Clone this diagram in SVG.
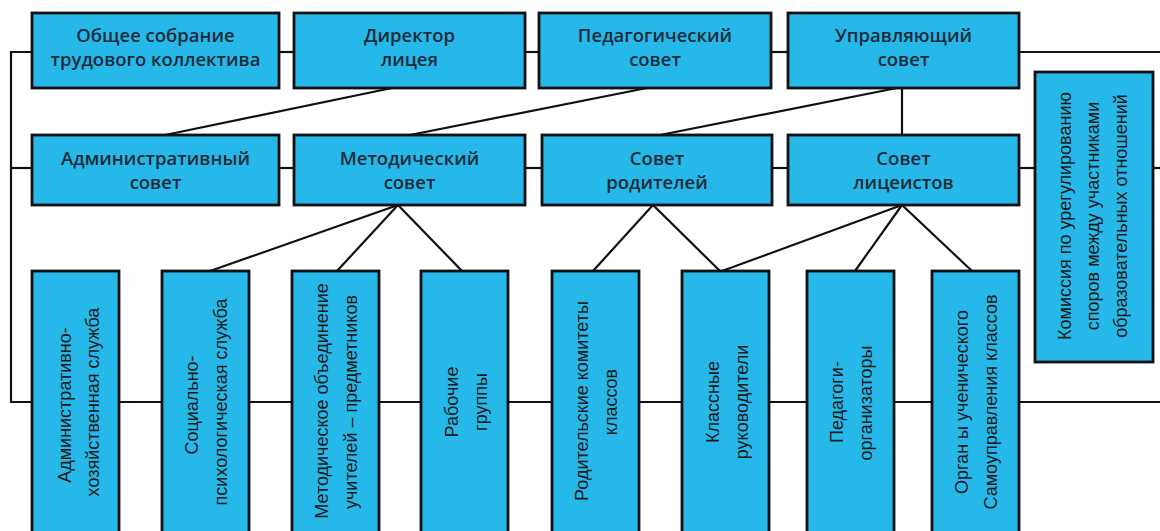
<svg xmlns="http://www.w3.org/2000/svg" width="1160" height="531" viewBox="0 0 1160 531">
<style>
.box{fill:#27B8EA;stroke:#111;stroke-width:2.8}
.ln{stroke:#111;stroke-width:2.2;fill:none}
.t{font-family:"Open Sans","Liberation Sans",sans-serif;font-weight:600;font-size:18.5px;fill:#1c2b38;text-anchor:middle;dominant-baseline:central}
.v{font-family:"Liberation Sans",Arial,sans-serif;font-size:18px;fill:#1a1a1a;text-anchor:middle;dominant-baseline:central}
</style>
<rect width="1160" height="531" fill="#fff"/>
<g id="connectors" class="ln">
<polyline points="32,52 11,52 11,402 32,402"/>
<line x1="11" y1="168" x2="32" y2="168"/>
<line x1="279" y1="52" x2="294" y2="52"/>
<line x1="525" y1="52" x2="539" y2="52"/>
<line x1="771" y1="52" x2="788" y2="52"/>
<line x1="1019" y1="52" x2="1160" y2="52"/>
<line x1="279" y1="168" x2="294" y2="168"/>
<line x1="525" y1="168" x2="542" y2="168"/>
<line x1="772" y1="168" x2="788" y2="168"/>
<line x1="1019" y1="168" x2="1035" y2="168"/>
<line x1="1153" y1="168" x2="1160" y2="168"/>
<line x1="119" y1="402" x2="162" y2="402"/>
<line x1="249" y1="402" x2="292" y2="402"/>
<line x1="379" y1="402" x2="421" y2="402"/>
<line x1="508" y1="402" x2="552" y2="402"/>
<line x1="639" y1="402" x2="682" y2="402"/>
<line x1="769" y1="402" x2="807" y2="402"/>
<line x1="894" y1="402" x2="932" y2="402"/>
<line x1="1019" y1="402" x2="1160" y2="402"/>
<line x1="392" y1="88" x2="165" y2="135"/>
<line x1="647" y1="88" x2="410" y2="135"/>
<line x1="897" y1="88" x2="660" y2="135"/>
<line x1="902" y1="88" x2="902" y2="135"/>
<line x1="398" y1="205" x2="210" y2="271"/>
<line x1="398" y1="205" x2="337" y2="271"/>
<line x1="398" y1="205" x2="462" y2="271"/>
<line x1="653" y1="205" x2="593" y2="271"/>
<line x1="653" y1="205" x2="720" y2="271"/>
<line x1="902" y1="205" x2="722" y2="271"/>
<line x1="902" y1="205" x2="855" y2="271"/>
<line x1="902" y1="205" x2="972" y2="271"/>
</g>
<g id="n-obshchee"><rect class="box" x="32" y="13" width="247" height="75"/><text class="t" x="155.5" y="34">Общее собрание</text><text class="t" x="155.5" y="58">трудового коллектива</text></g>
<g id="n-direktor"><rect class="box" x="294" y="13" width="231" height="75"/><text class="t" x="409.5" y="34">Директор</text><text class="t" x="409.5" y="58">лицея</text></g>
<g id="n-pedsovet"><rect class="box" x="539" y="13" width="232" height="75"/><text class="t" x="655" y="34">Педагогический</text><text class="t" x="655" y="58">совет</text></g>
<g id="n-upravl"><rect class="box" x="788" y="13" width="231" height="75"/><text class="t" x="903.5" y="34">Управляющий</text><text class="t" x="903.5" y="58">совет</text></g>
<g id="n-admsovet"><rect class="box" x="32" y="135" width="247" height="70"/><text class="t" x="155.5" y="157">Административный</text><text class="t" x="155.5" y="181">совет</text></g>
<g id="n-metsovet"><rect class="box" x="294" y="135" width="231" height="70"/><text class="t" x="409.5" y="157">Методический</text><text class="t" x="409.5" y="181">совет</text></g>
<g id="n-roditeli"><rect class="box" x="542" y="135" width="230" height="70"/><text class="t" x="657" y="157">Совет</text><text class="t" x="657" y="181">родителей</text></g>
<g id="n-litseisty"><rect class="box" x="788" y="135" width="231" height="70"/><text class="t" x="903.5" y="157">Совет</text><text class="t" x="903.5" y="181">лицеистов</text></g>
<g id="n-komissiya"><rect class="box" x="1035" y="72" width="118" height="290"/>
<text class="v" transform="translate(1065,216) rotate(-90)">Комиссия по урегулированию</text>
<text class="v" transform="translate(1093,216) rotate(-90)">споров между участниками</text>
<text class="v" transform="translate(1121,216) rotate(-90)">образовательных отношений</text></g>
<g id="n-ahs"><rect class="box" x="32" y="271" width="87" height="275"/>
<text class="v" transform="translate(65,405) rotate(-90)">Административно-</text>
<text class="v" transform="translate(93,402) rotate(-90)">хозяйственная служба</text></g>
<g id="n-sps"><rect class="box" x="162" y="271" width="87" height="275"/>
<text class="v" transform="translate(192,405) rotate(-90)">Социально-</text>
<text class="v" transform="translate(221,402) rotate(-90)">психологическая служба</text></g>
<g id="n-mo"><rect class="box" x="292" y="271" width="87" height="275"/>
<text class="v" transform="translate(322,401) rotate(-90)">Методическое объединение</text>
<text class="v" transform="translate(351,402) rotate(-90)">учителей – предметников</text></g>
<g id="n-rg"><rect class="box" x="421" y="271" width="87" height="275"/>
<text class="v" transform="translate(452,402) rotate(-90)">Рабочие</text>
<text class="v" transform="translate(481,402) rotate(-90)">группы</text></g>
<g id="n-rk"><rect class="box" x="552" y="271" width="87" height="275"/>
<text class="v" transform="translate(582,401) rotate(-90)">Родительские комитеты</text>
<text class="v" transform="translate(611,402) rotate(-90)">классов</text></g>
<g id="n-kr"><rect class="box" x="682" y="271" width="87" height="275"/>
<text class="v" transform="translate(713,402) rotate(-90)">Классные</text>
<text class="v" transform="translate(742,402) rotate(-90)">руководители</text></g>
<g id="n-po"><rect class="box" x="807" y="271" width="87" height="275"/>
<text class="v" transform="translate(837,402) rotate(-90)">Педагоги-</text>
<text class="v" transform="translate(866,403) rotate(-90)">организаторы</text></g>
<g id="n-ous"><rect class="box" x="932" y="271" width="87" height="275"/>
<text class="v" transform="translate(962,402) rotate(-90)">Орган ы ученического</text>
<text class="v" transform="translate(991,402) rotate(-90)">Самоуправления классов</text></g>
</svg>
